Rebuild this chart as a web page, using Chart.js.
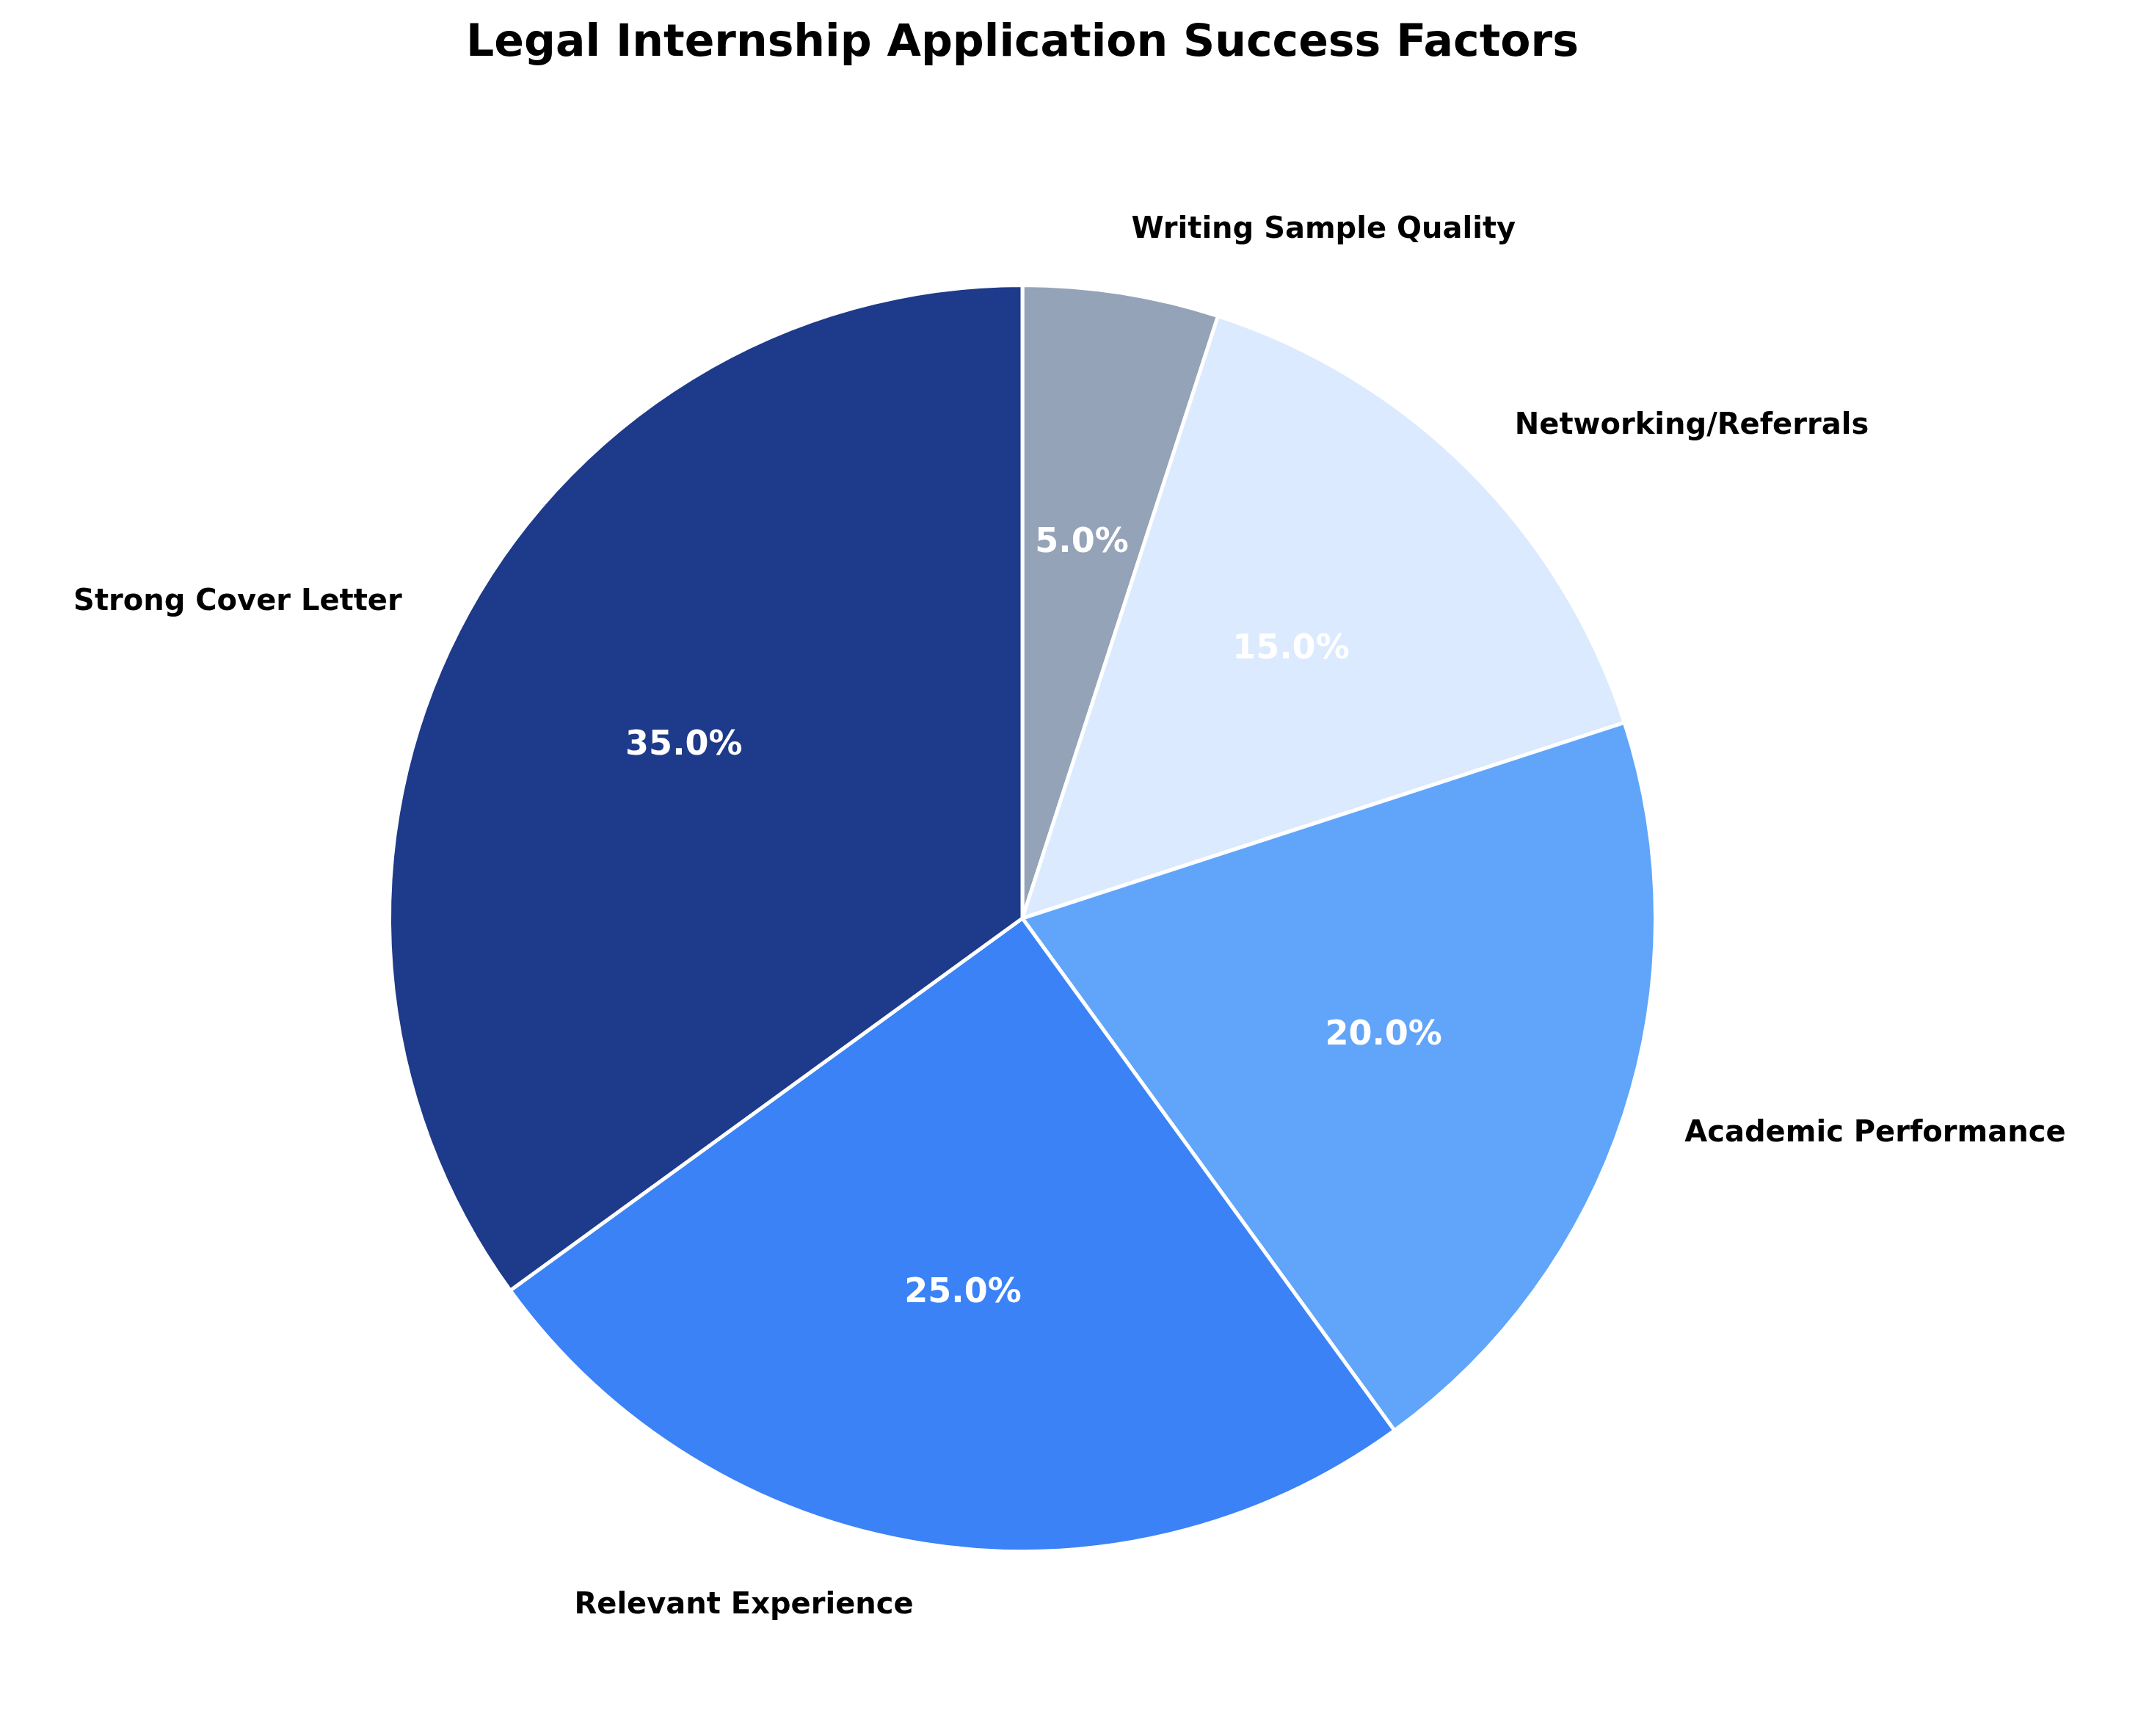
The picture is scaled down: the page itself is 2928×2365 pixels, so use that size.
<!DOCTYPE html>
<html>
<head>
<meta charset="utf-8">
<script src="https://cdn.jsdelivr.net/npm/chart.js@4"></script>
<style>
  html, body { margin: 0; padding: 0; background: #fff; }
  canvas { display: block; }
</style>
</head>
<body>
<canvas id="pie" width="2928" height="2365"></canvas>
<script>
const chartTitle = "Legal Internship Application Success Factors";
const factors = ["Strong Cover Letter", "Relevant Experience", "Academic Performance", "Networking/Referrals", "Writing Sample Quality"];
const shares = [35, 25, 20, 15, 5];
const sliceColors = ["#1e3a8a", "#3b82f6", "#60a5fa", "#dbeafe", "#94a3b8"];

// matplotlib draws counterclockwise from the top; Chart.js clockwise, so reverse
const labels = factors.slice().reverse();
const values = shares.slice().reverse();
const colors = sliceColors.slice().reverse();

const FONT = "bold 26px 'DejaVu Sans'";

const labelPlugin = {
  id: "pieLabels",
  afterDraw(chart) {
    const ctx = chart.ctx;
    const meta = chart.getDatasetMeta(0);
    const total = values.reduce((a, b) => a + b, 0);
    ctx.save();
    ctx.textBaseline = "middle";
    meta.data.forEach((arc, i) => {
      const mid = (arc.startAngle + arc.endAngle) / 2;
      const r = arc.outerRadius;
      const cx = Math.cos(mid), cy = Math.sin(mid);
      // percentage inside
      ctx.font = "bold 46px 'DejaVu Sans'";
      ctx.fillStyle = "#ffffff";
      ctx.textAlign = "center";
      ctx.fillText((values[i] / total * 100).toFixed(1) + "%", arc.x + cx * r * 0.6, arc.y + cy * r * 0.6);
      // category outside
      ctx.font = "bold 40px 'DejaVu Sans'";
      ctx.fillStyle = "#000000";
      ctx.textAlign = cx >= 0 ? "left" : "right";
      ctx.fillText(labels[i], arc.x + cx * r * 1.1, arc.y + cy * r * 1.1);
    });
    ctx.font = "bold 60px 'DejaVu Sans'";
    ctx.fillStyle = "#000";
    ctx.textAlign = "center";
    ctx.fillText(chartTitle, 1393, 60);
    ctx.restore();
  }
};

new Chart(document.getElementById("pie").getContext("2d"), {
  type: "pie",
  data: {
    labels: labels,
    datasets: [{
      data: values,
      backgroundColor: colors,
      borderColor: "#ffffff",
      borderWidth: 5
    }]
  },
  options: {
    responsive: false,
    animation: false,
    layout: { padding: { left: 528, right: 670, top: 386, bottom: 249 } },
    plugins: {
      legend: { display: false },
      tooltip: { enabled: false }
    }
  },
  plugins: [labelPlugin]
});
</script>
</body>
</html>
